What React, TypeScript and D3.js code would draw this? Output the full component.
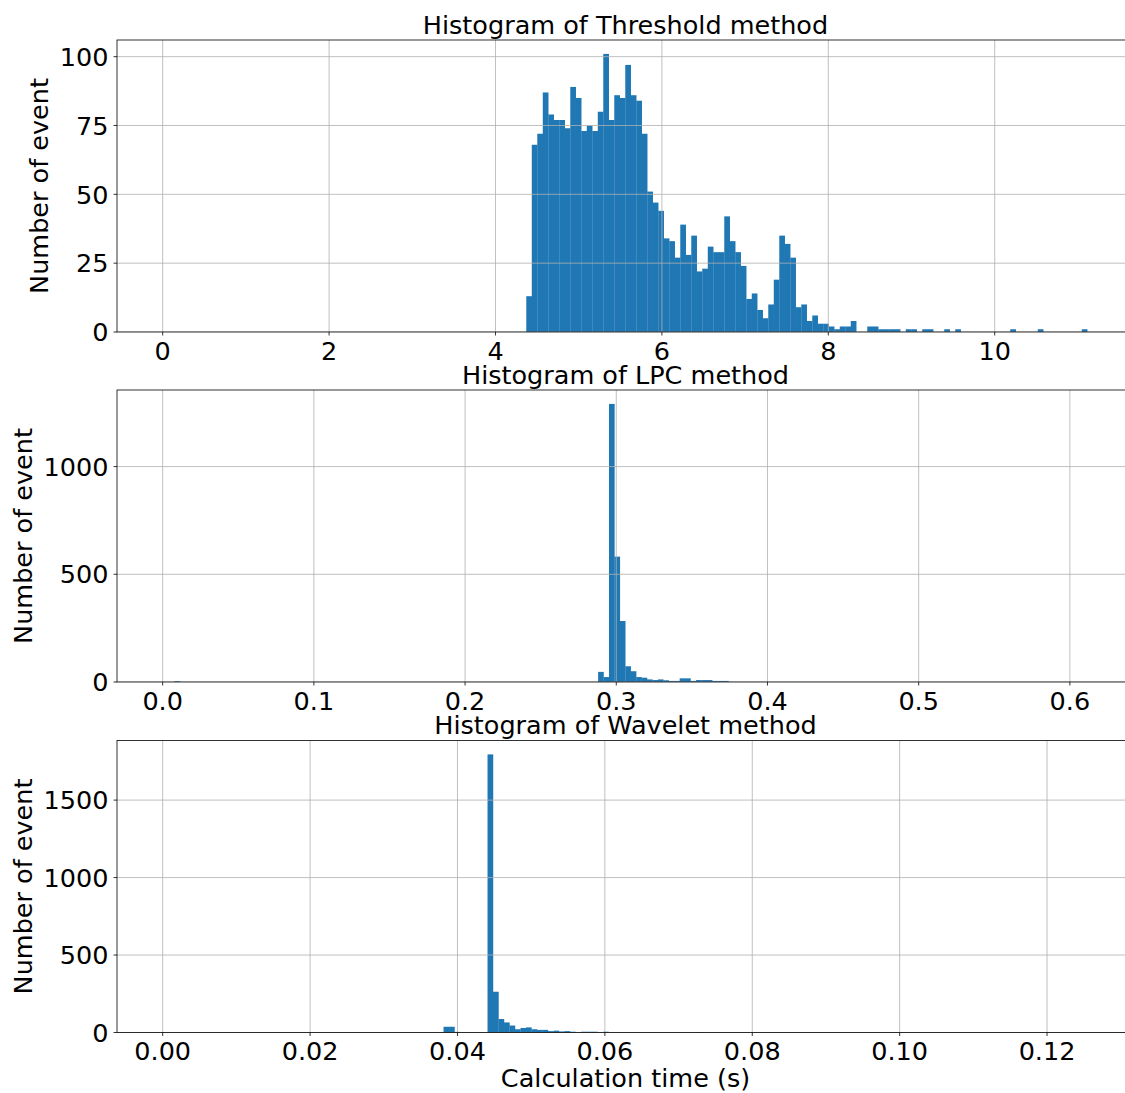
import React from "react";
import * as d3 from "d3";

// ---------- data ----------
const titles = ["Histogram of Threshold method", "Histogram of LPC method", "Histogram of Wavelet method"];
const yLabel = "Number of event";
const xLabel = "Calculation time (s)";

// Threshold method: contiguous bins starting at thresholdBinStart
const thresholdBinStart = 4.37;
const thresholdBinWidth = 0.0661;
const thresholdCounts = [
  13, 68, 72, 87, 79, 77, 77, 74, 89, 85, 73, 75, 73, 80, 101, 77, 86, 85, 97, 86,
  84, 72, 51, 47, 44, 34, 33, 27, 39, 28, 35, 22, 23, 31, 29, 29, 42, 33, 29, 24,
  12, 14, 8, 5, 10, 19, 35, 32, 27, 9, 10, 4, 6, 3, 3, 2, 1, 2, 2, 4,
  0, 0, 2, 2, 1, 1, 1, 1, 0, 1, 1, 0, 1, 1, 0, 0, 1, 0, 1, 0,
  0, 0, 0, 0, 0, 0, 0, 0, 1, 0, 0, 0, 0, 1, 0, 0, 0, 0, 0, 0,
  0, 1,
];
const thresholdXDomain = [-0.549, 11.674];
const thresholdXTicks = [0, 2, 4, 6, 8, 10];
const thresholdYTicks = [0, 25, 50, 75, 100];

// LPC method
const lpcBinStart = 0.2880;
const lpcBinWidth = 0.003595;
const lpcCounts = [47, 23, 1291, 582, 283, 73, 50, 23, 20, 12, 9, 12, 8, 5, 5, 17, 17, 5, 9, 9, 9, 5, 5, 5];
const lpcOutlierStarts = [0.0077];
const lpcOutlierCounts = [4];
const lpcXDomain = [-0.0302, 0.6424];
const lpcXTicks = [0, 0.1, 0.2, 0.3, 0.4, 0.5, 0.6];
const lpcYTicks = [0, 500, 1000];

// Wavelet method
const waveletBinStart = 0.03811;
const waveletBinWidth = 0.000746;
const waveletCounts = [
  37, 37, 4, 0, 0, 0, 0, 0, 1795, 263, 87, 65, 45, 21, 29, 33, 21, 17, 17, 9,
  12, 7, 9, 5, 0, 5, 5, 5, 0, 5, 0, 0, 0, 0, 0, 0, 0, 3, 0, 0,
  0, 0, 0, 0, 0, 0, 3,
];
const waveletXDomain = [-0.0062, 0.1318];
const waveletXTicks = [0, 0.02, 0.04, 0.06, 0.08, 0.1, 0.12];
const waveletYTicks = [0, 500, 1000, 1500];

// ---------- layout ----------
const W = 1125;
const H = 1093;
const axLeft = 117;
const axRight = 1134;
const panelTops = [40, 390, 740.5];
const panelH = 292;
const FS = 25.5;
const FONT = "DejaVu Sans";
const BAR = "#1f77b4";

type Bin = { x0: number; x1: number; c: number };

function makeBins(start: number, width: number, counts: number[]): Bin[] {
  return counts.map((c, i) => ({ x0: start + i * width, x1: start + (i + 1) * width, c }));
}

const panels = [
  {
    title: titles[0],
    bins: makeBins(thresholdBinStart, thresholdBinWidth, thresholdCounts),
    xDomain: thresholdXDomain,
    xTicks: thresholdXTicks,
    yTicks: thresholdYTicks,
    fmt: (v: number) => d3.format("d")(v),
  },
  {
    title: titles[1],
    bins: [
      ...lpcOutlierStarts.map((s, i) => ({ x0: s, x1: s + lpcBinWidth, c: lpcOutlierCounts[i] })),
      ...makeBins(lpcBinStart, lpcBinWidth, lpcCounts),
    ],
    xDomain: lpcXDomain,
    xTicks: lpcXTicks,
    yTicks: lpcYTicks,
    fmt: (v: number) => d3.format(".1f")(v),
  },
  {
    title: titles[2],
    bins: makeBins(waveletBinStart, waveletBinWidth, waveletCounts),
    xDomain: waveletXDomain,
    xTicks: waveletXTicks,
    yTicks: waveletYTicks,
    fmt: (v: number) => d3.format(".2f")(v),
  },
];

export default function App() {
  return (
    <svg
      width={W}
      height={H}
      style={{ position: "absolute", left: 0, top: 0, background: "#fff" }}
      fontFamily={FONT}
    >
      <rect x={0} y={0} width={W} height={H} fill="#fff" />
      {panels.map((p, pi) => {
        const top = panelTops[pi];
        const bottom = top + panelH;
        const maxC = d3.max(p.bins, (b) => b.c) as number;
        const x = d3.scaleLinear().domain(p.xDomain).range([axLeft, axRight]);
        const y = d3.scaleLinear().domain([0, maxC * 1.05]).range([bottom, top]);
        const clipId = `clip${pi}`;
        const maxLabelLen = d3.max(p.yTicks, (t) => String(t).length) as number;
        const yLabelX = axLeft - 3.5 - 5 - maxLabelLen * 0.636 * FS - 12;
        return (
          <g key={pi}>
            <defs>
              <clipPath id={clipId}>
                <rect x={axLeft} y={top} width={axRight - axLeft} height={panelH} />
              </clipPath>
            </defs>
            <g clipPath={`url(#${clipId})`}>
              {p.bins
                .filter((b) => b.c > 0)
                .map((b, i) => (
                  <rect
                    key={i}
                    x={x(b.x0)}
                    width={x(b.x1) - x(b.x0) + 0.2}
                    y={y(b.c)}
                    height={y(0) - y(b.c)}
                    fill={BAR}
                  />
                ))}
              {p.xTicks.map((t) => (
                <line key={"gx" + t} x1={x(t)} x2={x(t)} y1={top} y2={bottom} stroke="#b0b0b0" strokeWidth={0.8} />
              ))}
              {p.yTicks.map((t) => (
                <line key={"gy" + t} x1={axLeft} x2={axRight} y1={y(t)} y2={y(t)} stroke="#b0b0b0" strokeWidth={0.8} />
              ))}
            </g>
            {/* spines */}
            <rect x={axLeft} y={top} width={axRight - axLeft} height={panelH} fill="none" stroke="#000" strokeWidth={0.8} />
            {/* x ticks */}
            {p.xTicks.map((t) => (
              <g key={"xt" + t}>
                <line x1={x(t)} x2={x(t)} y1={bottom} y2={bottom + 3.5} stroke="#000" strokeWidth={0.8} />
                <text x={x(t)} y={bottom + 27.5} textAnchor="middle" fontSize={FS} fill="#000">
                  {p.fmt(t)}
                </text>
              </g>
            ))}
            {/* y ticks */}
            {p.yTicks.map((t) => (
              <g key={"yt" + t}>
                <line x1={axLeft - 3.5} x2={axLeft} y1={y(t)} y2={y(t)} stroke="#000" strokeWidth={0.8} />
                <text x={axLeft - 8.5} y={y(t)} dy="0.36em" textAnchor="end" fontSize={FS} fill="#000">
                  {t}
                </text>
              </g>
            ))}
            <text
              transform={`translate(${yLabelX},${(top + bottom) / 2}) rotate(-90)`}
              textAnchor="middle"
              fontSize={FS}
              fill="#000"
            >
              {yLabel}
            </text>
            <text x={(axLeft + axRight) / 2} y={top - 6.5} textAnchor="middle" fontSize={FS} fill="#000">
              {p.title}
            </text>
          </g>
        );
      })}
      <text x={(axLeft + axRight) / 2} y={1087} textAnchor="middle" fontSize={FS} fill="#000">
        {xLabel}
      </text>
    </svg>
  );
}
